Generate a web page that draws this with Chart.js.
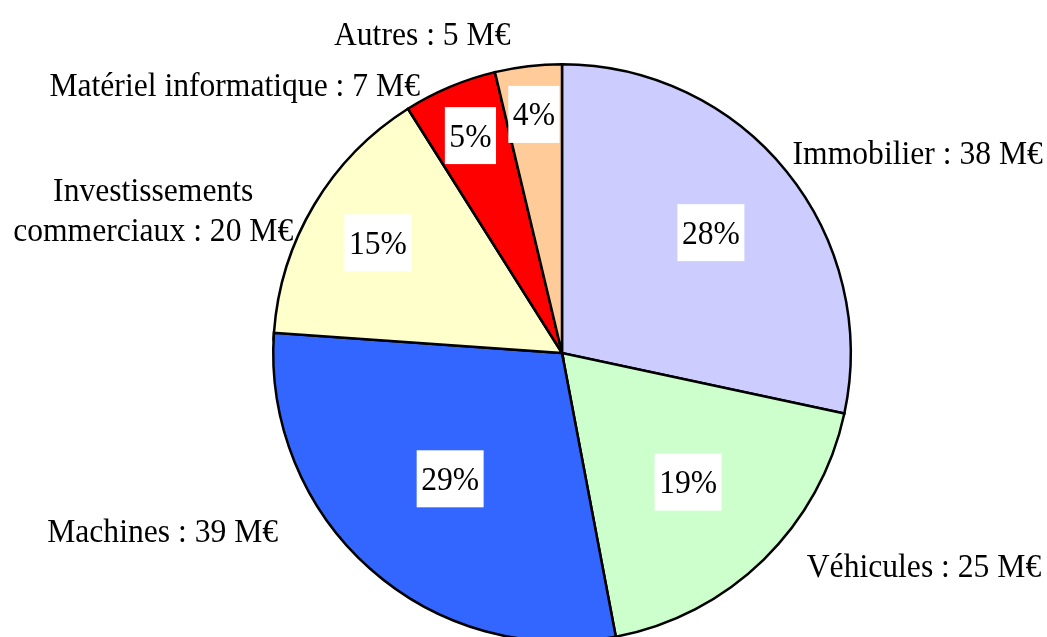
<!DOCTYPE html>
<html>
<head>
<meta charset="utf-8">
<script src="https://cdn.jsdelivr.net/npm/chart.js@4"></script>
<style>
  html, body { margin: 0; padding: 0; background: #fff; overflow: hidden; }
  #wrap { width: 1047px; height: 660px; }
</style>
</head>
<body>
<div id="wrap"><canvas id="pieChart" width="1047" height="660"></canvas></div>
<script>
const labels = ['Immobilier', 'Véhicules', 'Machines', 'Investissements commerciaux', 'Matériel informatique', 'Autres'];
const values = [38, 25, 39, 20, 7, 5];
const colors = ['#CCCCFF', '#CCFFCC', '#3366FF', '#FFFFCC', '#FF0000', '#FFCC99'];

// label placement, relative to the slice (percent label radius as a fraction of R,
// outside label offset from the arc mid point)
const pctRadius = [0.663, 0.625, 0.583, 0.743, 0.817, 0.832];
const outLines = [
  ['Immobilier : 38 M€'],
  ['Véhicules : 25 M€'],
  ['Machines : 39 M€'],
  ['Investissements', 'commerciaux : 20 M€'],
  ['Matériel informatique : 7 M€'],
  ['Autres : 5 M€']
];
const outOffset = [[6, -7, 'left'], [43, 17, 'left'], [-92, -27, 'right'], [-161, -4, 'center'], [-30, 9, 'right'], [-106, -21, 'center']];

const FONT = '34px "Liberation Serif", "Times New Roman", serif';
const SX = 0.93; // the source text is a bit narrower than regular Times

function drawText(ctx, txt, x, y) {
  ctx.save();
  ctx.translate(x, y);
  ctx.scale(SX, 1);
  ctx.fillText(txt, 0, 0);
  ctx.restore();
}

const pieLabels = {
  id: 'pieLabels',
  afterDraw(chart) {
    const ctx = chart.ctx;
    const meta = chart.getDatasetMeta(0);
    const total = values.reduce((a, b) => a + b, 0);
    ctx.save();
    ctx.font = FONT;
    ctx.textBaseline = 'alphabetic';
    meta.data.forEach((arc, i) => {
      const mid = (arc.startAngle + arc.endAngle) / 2;
      const R = arc.outerRadius;
      // percent label in white box
      const txt = Math.round(values[i] / total * 100) + '%';
      const r = R * pctRadius[i];
      const cx = arc.x + Math.cos(mid) * r;
      const cy = arc.y + Math.sin(mid) * r;
      const w = ctx.measureText(txt).width * SX + 9;
      const h = 57;
      ctx.fillStyle = '#fff';
      ctx.fillRect(cx - w / 2, cy - h / 2, w, h);
      ctx.fillStyle = '#000';
      ctx.textAlign = 'center';
      drawText(ctx, txt, cx, cy + 11);
      // category label outside
      const ax = arc.x + Math.cos(mid) * R + outOffset[i][0];
      const ay = arc.y + Math.sin(mid) * R + outOffset[i][1];
      ctx.textAlign = outOffset[i][2];
      outLines[i].forEach((line, k) => drawText(ctx, line, ax, ay + k * 40));
    });
    ctx.restore();
  }
};

new Chart(document.getElementById('pieChart'), {
  type: 'pie',
  data: {
    labels: labels,
    datasets: [{
      data: values,
      backgroundColor: colors,
      borderColor: '#000',
      borderWidth: 2.5,
      borderJoinStyle: 'miter'
    }]
  },
  options: {
    responsive: false,
    animation: false,
    layout: { padding: { top: 63, bottom: 17, left: 272, right: 195 } },
    plugins: {
      legend: { display: false },
      tooltip: { enabled: false }
    }
  },
  plugins: [pieLabels]
});
</script>
</body>
</html>
